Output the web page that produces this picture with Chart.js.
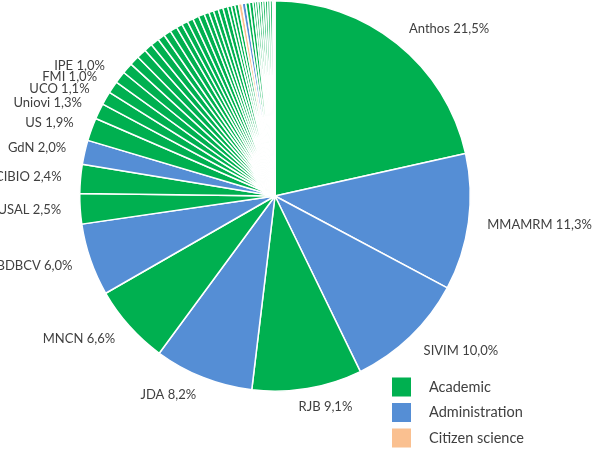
<!DOCTYPE html>
<html>
<head>
<meta charset="utf-8">
<script src="https://cdn.jsdelivr.net/npm/chart.js@4"></script>
<style>
  html, body { margin: 0; padding: 0; background: #fff; }
  #wrap { width: 600px; height: 452px; }
</style>
</head>
<body>
<div id="wrap"><canvas id="pie"></canvas></div>
<script>
// slice names (empty = no label drawn)
const names = ['Anthos', 'MMAMRM', 'SIVIM', 'RJB', 'JDA', 'MNCN', 'BDBCV', 'USAL', 'CIBIO', 'GdN',
  'US', 'Uniovi', 'UCO', 'FMI', 'IPE',
  '', '', '', '', '', '', '', '', '', '', '', '', '', '', '', '', '', '', '', '', '',
  '', '',
  '', '', '', '', '', '', '', '', '', '', '', ''];
// share of records, %
const shares = [21.5, 11.3, 10.0, 9.1, 8.2, 6.6, 6.0, 2.5, 2.4, 2.0,
  1.9, 1.3, 1.1, 1.0, 1.0,
  0.9, 0.8, 0.8, 0.7, 0.7, 0.6, 0.6, 0.6, 0.5, 0.5, 0.5, 0.5, 0.5, 0.4, 0.4, 0.4, 0.4, 0.4, 0.3, 0.3, 0.3,
  0.3, 0.3,
  0.3, 0.3, 0.2, 0.2, 0.2, 0.2, 0.2, 0.2, 0.2, 0.2, 0.1, 0.1];
// A = academic, D = administration, C = citizen science
const groups = ['A', 'D', 'D', 'A', 'D', 'A', 'D', 'A', 'A', 'D',
  'A', 'A', 'A', 'A', 'A',
  'A', 'A', 'A', 'A', 'A', 'A', 'A', 'A', 'A', 'A', 'A', 'A', 'A', 'A', 'A', 'A', 'A', 'A', 'A', 'A', 'A',
  'C', 'D',
  'A', 'A', 'A', 'A', 'A', 'A', 'A', 'A', 'A', 'A', 'A', 'A'];

const legendNames = ['Academic', 'Administration', 'Citizen science'];
const legendKeys = ['A', 'D', 'C'];
const colors = { A: '#00B050', D: '#558ED5', C: '#FAC090' };

const FONT = 'Lato, "Open Sans", sans-serif';

const outsideLabels = {
  id: 'outsideLabels',
  afterDatasetsDraw(chart) {
    const ctx = chart.ctx;
    const meta = chart.getDatasetMeta(0);
    ctx.save();
    ctx.font = '13px ' + FONT;
    ctx.fillStyle = '#404040';
    ctx.textBaseline = 'middle';
    meta.data.forEach((arc, i) => {
      if (!names[i]) return;
      const mid = (arc.startAngle + arc.endAngle) / 2;
      const r = arc.outerRadius + 19;
      const x = arc.x + Math.cos(mid) * r;
      const y = arc.y + Math.sin(mid) * r;
      ctx.textAlign = Math.cos(mid) > -0.1 ? 'left' : 'right';
      const txt = names[i] + ' ' + shares[i].toFixed(1).replace('.', ',') + '%';
      ctx.fillText(txt, x - (i === 3 ? 12 : 0), y);
    });
    ctx.restore();
  }
};

// small legend in the lower right corner
const groupLegend = {
  id: 'groupLegend',
  afterDraw(chart) {
    const ctx = chart.ctx;
    ctx.save();
    ctx.font = '14.5px ' + FONT;
    ctx.textBaseline = 'middle';
    ctx.textAlign = 'left';
    legendNames.forEach((n, i) => {
      const y = 387 + i * 25.5;
      ctx.fillStyle = colors[legendKeys[i]];
      ctx.fillRect(392, y - 9.5, 19, 19);
      ctx.fillStyle = '#404040';
      ctx.fillText(n, 429, y);
    });
    ctx.restore();
  }
};

new Chart(document.getElementById('pie'), {
  type: 'pie',
  data: {
    labels: names,
    datasets: [{
      data: shares,
      backgroundColor: groups.map(g => colors[g]),
      borderColor: '#ffffff',
      borderWidth: 1.5
    }]
  },
  options: {
    responsive: true,
    maintainAspectRatio: false,
    animation: false,
    layout: { padding: { top: 0, bottom: 60, left: 0, right: 50 } },
    plugins: {
      legend: { display: false },
      tooltip: { enabled: false }
    }
  },
  plugins: [outsideLabels, groupLegend]
});
</script>
</body>
</html>
